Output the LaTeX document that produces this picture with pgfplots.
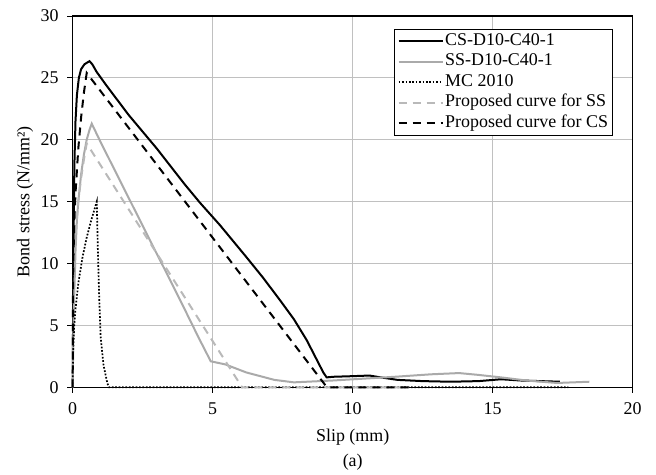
\documentclass[border=0pt]{standalone}
\usepackage{fontspec}
\setmainfont{Liberation Serif}
\usepackage{pgfplots}
\pgfplotsset{compat=1.18}
\definecolor{lgray}{RGB}{170,170,170}
\definecolor{dgray}{RGB}{185,185,185}
\definecolor{gridc}{RGB}{192,192,192}
\begin{document}
\begin{tikzpicture}
\begin{axis}[
  at={(0,0)}, anchor=south west,
  scale only axis, width=560bp, height=371.3bp,
  xmin=0, xmax=20, ymin=0, ymax=30,
  xtick={0,5,10,15,20}, ytick={0,5,10,15,20,25,30},
  xtick pos=bottom, ytick pos=left,
  tick align=outside, major tick length=5.5bp,
  tick style={black, line width=1bp},
  grid=major, major grid style={gridc, line width=1bp},
  axis line style={black, line width=1.2bp},
  /pgf/number format/assume math mode=true,
  ticklabel style={font=\fontsize{18}{21}\selectfont},
  yticklabel style={xshift=-5bp},
  xticklabel style={yshift=-6bp},
  label style={font=\fontsize{18}{21}\selectfont},
  xlabel={Slip (mm)}, ylabel={Bond stress (N/mm²)},
  xlabel style={at={(axis description cs:0.5,-0.1339)}, anchor=center},
  ylabel style={at={(axis description cs:-0.0852,0.5)}, anchor=center},
  legend style={at={(1,1)}, anchor=north east, xshift=-19.7bp, yshift=-13bp,
    draw=black, line width=0.8bp, fill=white, inner xsep=3bp, inner ysep=1.5bp,
    font=\fontsize{18}{21}\selectfont,
    nodes={inner sep=1.5bp, text height=13bp, text depth=4.5bp}},
  legend cell align=left,
  legend image code/.code={\draw[#1] (0bp,0bp) -- (44bp,0bp);},
  clip=false,
]
\addplot[black, line width=2bp] coordinates {
(0,0) (0.01,4) (0.03,12) (0.06,18) (0.1,21.5) (0.15,23.6) (0.22,25) (0.3,25.7) (0.42,26.1) (0.6,26.35) (0.7,26.1) (0.85,25.5) (1.2,24.4) (2,22) (3,19.3) (4,16.4) (4.55,14.9) (5.26,13.1) (6.21,10.5) (6.8,8.85) (7.4,7.05) (7.9,5.5) (8.36,3.8) (8.7,2.3) (8.95,1.2) (9.07,0.8) (9.3,0.85) (10,0.9) (10.6,0.95) (11,0.8) (11.6,0.6) (12.5,0.5) (13.5,0.45) (14.5,0.5) (15.3,0.65) (16,0.55) (17.4,0.45)
};
\addlegendentry{CS-D10-C40-1}
\addplot[lgray, line width=2bp] coordinates {
(0,0) (0.02,4) (0.05,7) (0.1,11) (0.15,13.5) (0.2,15) (0.3,17.2) (0.4,18.8) (0.5,20) (0.6,20.8) (0.68,21.3) (1,19.8) (2,15.3) (3,10.8) (3.36,9.2) (4,6.3) (4.5,4.0) (4.93,2.1) (5.45,1.85) (6.2,1.2) (7.2,0.6) (7.9,0.4) (9.3,0.55) (11.5,0.85) (12.8,1.05) (13.8,1.15) (14.5,1.0) (15.3,0.8) (16.2,0.55) (17.3,0.35) (18.45,0.45)
};
\addlegendentry{SS-D10-C40-1}
\addplot[black, line width=1.7bp, dash pattern=on 1.7bp off 1.7bp] coordinates {
(0,0) (0.01,2.5) (0.05,4.8) (0.1,6.3) (0.2,8.4) (0.35,10.5) (0.5,12.1) (0.65,13.4) (0.86,15) (0.9,11) (0.95,7) (1.0,4) (1.1,1.8) (1.24,0.3) (1.3,0) (17.7,0)
};
\addlegendentry{MC 2010}
\addplot[dgray, line width=2bp, dash pattern=on 8bp off 6bp] coordinates {
(0,0) (0.01,6.1) (0.03,8.5) (0.06,10.4) (0.1,12.2) (0.2,15.0) (0.3,16.9) (0.4,18.4) (0.5,19.7) (6.05,0) (12,0)
};
\addlegendentry{Proposed curve for SS}
\addplot[black, line width=2bp, dash pattern=on 8bp off 6bp] coordinates {
(0,0) (0.01,7.8) (0.03,10.9) (0.06,13.4) (0.1,15.7) (0.2,19.3) (0.3,21.8) (0.4,23.8) (0.5,25.4) (9.08,0) (12,0)
};
\addlegendentry{Proposed curve for CS}
\node[font=\fontsize{18}{21}\selectfont] at (axis description cs:0.5,-0.2012) {(a)};
\end{axis}
\pgfresetboundingbox
\path[use as bounding box] (-72.7bp,-87.7bp) rectangle (583.3bp,387.3bp);
\end{tikzpicture}
\end{document}
